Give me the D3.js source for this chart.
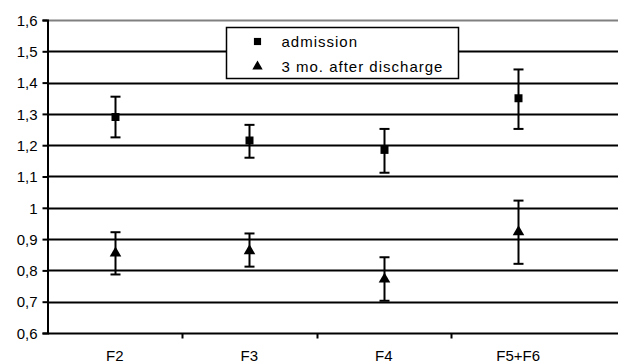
<!DOCTYPE html>
<html>
<head>
<meta charset="utf-8">
<script src="https://cdn.jsdelivr.net/npm/d3@7"></script>
<style>
	body { margin: 0; background: #ffffff; }
	text { font-family: "Liberation Sans", Arial, sans-serif; fill: #000000; }
</style>
</head>
<body>
<svg id="chart" width="618" height="362"></svg>
<script>
var categories = ["F2", "F3", "F4", "F5+F6"];

var admission_mean = [1.29, 1.215, 1.185, 1.35];
var admission_low = [1.225, 1.16, 1.112, 1.252];
var admission_high = [1.355, 1.265, 1.252, 1.442];

var after_mean = [0.855, 0.862, 0.772, 0.923];
var after_low = [0.787, 0.812, 0.703, 0.821];
var after_high = [0.922, 0.918, 0.842, 1.023];

var y_ticks = [0.6, 0.7, 0.8, 0.9, 1.0, 1.1, 1.2, 1.3, 1.4, 1.5, 1.6];

var series = [
	{"name":"admission", "mean":admission_mean, "low":admission_low, "high":admission_high, "symbol":d3.symbolSquare, "size":64},
	{"name":"3 mo. after discharge", "mean":after_mean, "low":after_low, "high":after_high, "symbol":d3.symbolTriangle, "size":58}
];

var svg = d3.select("#chart");
var plot_left = 47.5, plot_right = 618, plot_top = 20, plot_bottom = 333;

var x = d3.scaleBand().domain(categories).range([plot_left, 585.5]);
var y = d3.scaleLinear().domain([0.6, 1.6]).range([plot_bottom, plot_top]);

function fmt(v)
{
	return (Math.round(v * 10) / 10).toString().replace(".", ",");
}

// Horizontal gridlines, the top one is lighter.
svg.append("g")
	.selectAll("line")
	.data(y_ticks.slice(1))
	.enter()
	.append("line")
	.attr("x1", plot_left)
	.attr("x2", plot_right)
	.attr("y1", function(d) { return Math.round(y(d)) + 0.5; })
	.attr("y2", function(d) { return Math.round(y(d)) + 0.5; })
	.attr("stroke", function(d) { return d === 1.6 ? "#808080" : "#000000"; })
	.attr("stroke-width", 2);

// Y axis.
var y_axis = svg.append("g")
	.attr("transform", "translate(" + plot_left + ",0)")
	.call(d3.axisLeft(y).tickValues(y_ticks).tickFormat(fmt).tickSize(5).tickPadding(5));
y_axis.select(".domain").attr("stroke", "#000000").attr("stroke-width", 2);
y_axis.selectAll(".tick line").attr("stroke-width", 2);
y_axis.selectAll(".tick text").style("font-size", "15px").attr("dy", "0.35em");

// X axis with ticks between categories.
var x_axis = svg.append("g")
	.attr("transform", "translate(0," + (Math.round(y(0.6)) + 0.5) + ")");
x_axis.append("line")
	.attr("x1", plot_left)
	.attr("x2", plot_right)
	.attr("stroke", "#000000")
	.attr("stroke-width", 2);
x_axis.selectAll("line.sep")
	.data(categories.slice(1))
	.enter()
	.append("line")
	.attr("class", "sep")
	.attr("x1", function(d) { return Math.round(x(d)) + 0.5; })
	.attr("x2", function(d) { return Math.round(x(d)) + 0.5; })
	.attr("y1", 0)
	.attr("y2", 5)
	.attr("stroke", "#000000")
	.attr("stroke-width", 2);
x_axis.selectAll("text")
	.data(categories)
	.enter()
	.append("text")
	.attr("x", function(d) { return x(d) + x.bandwidth() / 2; })
	.attr("y", 27)
	.attr("text-anchor", "middle")
	.style("font-size", "15px")
	.text(function(d) { return d; });

// Error bars and markers.
series.forEach(function(s)
{
	var g = svg.append("g");
	categories.forEach(function(c, i)
	{
		var cx = Math.round(x(c) + x.bandwidth() / 2) + 0.5;
		g.append("line")
			.attr("x1", cx).attr("x2", cx)
			.attr("y1", y(s.high[i])).attr("y2", y(s.low[i]))
			.attr("stroke", "#000000").attr("stroke-width", 2);
		[s.high[i], s.low[i]].forEach(function(v)
		{
			g.append("line")
				.attr("x1", cx - 5).attr("x2", cx + 5)
				.attr("y1", y(v)).attr("y2", y(v))
				.attr("stroke", "#000000").attr("stroke-width", 2);
		});
		g.append("path")
			.attr("d", d3.symbol().type(s.symbol).size(s.size)())
			.attr("transform", "translate(" + cx + "," + y(s.mean[i]) + ")")
			.attr("fill", "#000000");
	});
});

// Legend box.
var legend = svg.append("g").attr("transform", "translate(226.5,27.5)");
legend.append("rect")
	.attr("width", 232)
	.attr("height", 51)
	.attr("fill", "#ffffff")
	.attr("stroke", "#000000")
	.attr("stroke-width", 1.5);
series.forEach(function(s, i)
{
	var row_y = 14 + i * 25;
	legend.append("path")
		.attr("d", d3.symbol().type(s.symbol).size(s.size * 0.8)())
		.attr("transform", "translate(31," + row_y + ")")
		.attr("fill", "#000000");
	legend.append("text")
		.attr("x", 55)
		.attr("y", row_y)
		.attr("dy", "0.35em")
		.style("font-size", "15px")
		.style("letter-spacing", "1px")
		.text(s.name);
});
</script>
</body>
</html>
